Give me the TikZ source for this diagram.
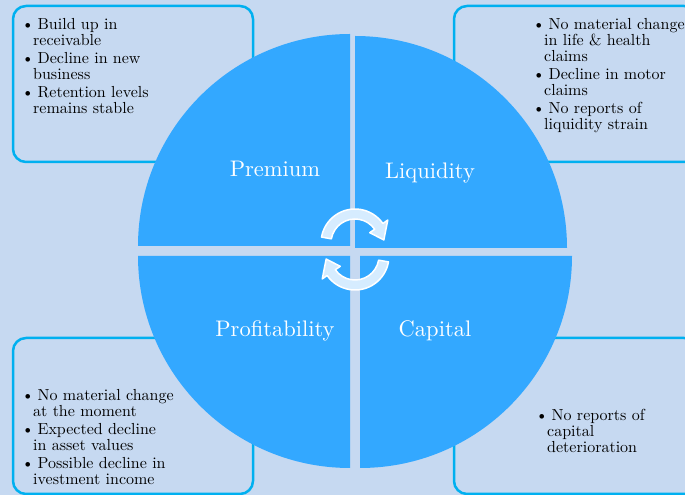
\documentclass[tikz,border=0pt]{standalone}
\usepackage{fontspec}
\setmainfont{lmroman10-regular}[Extension=.otf]
\usepackage{tikz}
\usetikzlibrary{arrows.meta,positioning,calc}
\definecolor{panelblue}{RGB}{198,217,241}
\definecolor{wheelblue}{RGB}{51,168,255}
\definecolor{edgecyan}{RGB}{0,176,240}
\definecolor{arrowpale}{RGB}{214,236,255}
\newenvironment{notelist}{\begin{list}{\textbullet}{\setlength{\leftmargin}{12pt}\setlength{\labelsep}{3.5pt}\setlength{\labelwidth}{8pt}\setlength{\itemsep}{2pt}\setlength{\parsep}{0pt}\setlength{\topsep}{0pt}\setlength{\partopsep}{0pt}}}{\end{list}}

\begin{document}
\begin{tikzpicture}[
  x=1pt, y=1pt,
  notebox/.style={rectangle, draw=edgecyan, line width=2.5pt, rounded corners=13pt, fill=panelblue, minimum height=156pt, inner sep=0pt},
  notes/.style={anchor=north west, inner sep=0pt, text width=190pt, align=left, font=\fontsize{16}{16}\selectfont},
  quad/.style={fill=wheelblue},
  quadlabel/.style={anchor=base, text=white, inner sep=0pt, font=\fontsize{22.5}{26}\selectfont},
  cyclearrow/.style={fill=arrowpale, draw=white, line width=1.5pt, line join=round}
]
\useasboundingbox (0,0) rectangle (685,495);
\fill[panelblue] (0,0) rectangle (685,495);

% boxes behind the wheel
\node[notebox, minimum width=240pt] (premiumbox) at (133,411) {};
\node[notebox, minimum width=243pt] (liquiditybox) at (575.5,411) {};
\node[notebox, minimum width=240pt] (profitbox) at (133,79) {};
\node[notebox, minimum width=243pt] (capitalbox) at (575.5,79) {};

% the four quarters
\fill[quad] (350,249) -- ++(180:212) arc[start angle=180, end angle=90, radius=212] -- cycle;
\fill[quad] (355,247) -- ++(0:212) arc[start angle=0, end angle=90, radius=212] -- cycle;
\fill[quad] (350,239) -- ++(180:212) arc[start angle=180, end angle=270, radius=212] -- cycle;
\fill[quad] (360,239) -- ++(0:212) arc[start angle=0, end angle=-90, radius=212] -- cycle;

\node[quadlabel] (premium) at (275,318) {Premium};
\node[quadlabel] (liquidity) at (430,316) {Liquidity};
\node[quadlabel] (profit) at (275,158) {Profitability};
\node[quadlabel] (capital) at (435,158) {Capital};

% cycle arrows
\coordinate (c1) at (355,252);
\coordinate (c2) at (355,239);
\filldraw[cyclearrow] ([shift={(170:34)}]c1) arc[start angle=170, end angle=35, radius=34]
  -- ([shift={(35:40)}]c1) -- ([shift={(6:29)}]c1) -- ([shift={(35:18)}]c1)
  -- ([shift={(35:24)}]c1) arc[start angle=35, end angle=170, radius=24] -- cycle;
\filldraw[cyclearrow] ([shift={(350:34)}]c2) arc[start angle=350, end angle=215, radius=34]
  -- ([shift={(215:40)}]c2) -- ([shift={(186:29)}]c2) -- ([shift={(215:18)}]c2)
  -- ([shift={(215:24)}]c2) arc[start angle=215, end angle=350, radius=24] -- cycle;

% bullet texts
\node[notes] (premiumnotes) at (21,482) {\begin{notelist}
  \item Build up in\\ receivable
  \item Decline in new\\ business
  \item Retention levels\\ remains stable
\end{notelist}};
\node[notes] (liquiditynotes) at (532,482) {\begin{notelist}
  \item No material change\\ in life \& health\\ claims
  \item Decline in motor\\ claims
  \item No reports of\\ liquidity strain
\end{notelist}};
\node[notes] (profitnotes) at (21,111) {\begin{notelist}
  \item No material change\\ at the moment
  \item Expected decline\\ in asset values
  \item Possible decline in\\ ivestment income
\end{notelist}};
\node[notes] (capitalnotes) at (535,91) {\begin{notelist}
  \item No reports of\\ capital\\ deterioration
\end{notelist}};
\end{tikzpicture}
\end{document}
